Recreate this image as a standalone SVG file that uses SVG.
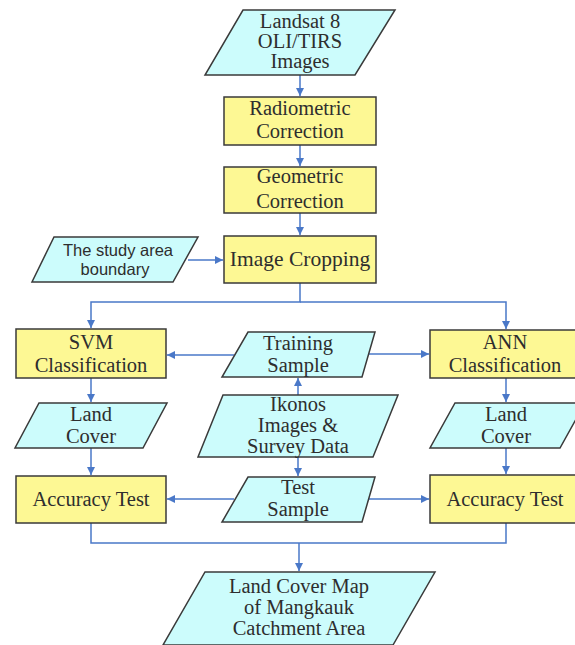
<svg xmlns="http://www.w3.org/2000/svg" width="575" height="645" viewBox="0 0 575 645">
<defs>
<marker id="ah" viewBox="0 0 10 10" refX="10" refY="5" markerWidth="8" markerHeight="8" markerUnits="userSpaceOnUse" orient="auto">
<path d="M0,0 L10,5 L0,10 z" fill="#4a78c8"/>
</marker>
<style>
.box{fill:#fdf894;stroke:#3a3a3a;stroke-width:1.5}
.para{fill:#ccfcfc;stroke:#3a3a3a;stroke-width:1.5}
.t{font-family:"Liberation Serif",serif;font-size:20.5px;fill:#2e2e2e;text-anchor:middle}
.s{font-family:"Liberation Sans",sans-serif;font-size:16.5px;fill:#2e2e2e;text-anchor:middle}
.c{fill:none;stroke:#4a78c8;stroke-width:1.5}
</style>
</defs>
<rect width="575" height="645" fill="#fff"/>
<g id="connectors">
<path class="c" d="M300,75 V96" marker-end="url(#ah)"/>
<path class="c" d="M300,145 V166" marker-end="url(#ah)"/>
<path class="c" d="M300,213 V235" marker-end="url(#ah)"/>
<path class="c" d="M188,260 H223" marker-end="url(#ah)"/>
<path class="c" d="M300,283 V302 H91 V328" marker-end="url(#ah)"/>
<path class="c" d="M300,302 H506 V329" marker-end="url(#ah)"/>
<path class="c" d="M234,355 H167" marker-end="url(#ah)"/>
<path class="c" d="M367,354 H429" marker-end="url(#ah)"/>
<path class="c" d="M298,395 V378" marker-end="url(#ah)"/>
<path class="c" d="M91,378 V402" marker-end="url(#ah)"/>
<path class="c" d="M506,378 V402" marker-end="url(#ah)"/>
<path class="c" d="M91,448 V475" marker-end="url(#ah)"/>
<path class="c" d="M506,448 V474" marker-end="url(#ah)"/>
<path class="c" d="M298,457 V476" marker-end="url(#ah)"/>
<path class="c" d="M234,499 H167" marker-end="url(#ah)"/>
<path class="c" d="M367,499 H429" marker-end="url(#ah)"/>
<path class="c" d="M91,523 V543 H506 V523"/>
<path class="c" d="M299,543 V571" marker-end="url(#ah)"/>
</g>
<g id="landsat">
<polygon class="para" points="243,10 395,10 355,75 205,75"/>
<text class="t" x="300" y="28">Landsat 8</text>
<text class="t" x="300" y="48">OLI/TIRS</text>
<text class="t" x="300" y="68">Images</text>
</g>
<g id="radiometric">
<rect class="box" x="224" y="97" width="152" height="48"/>
<text class="t" x="300" y="115">Radiometric</text>
<text class="t" x="300" y="138">Correction</text>
</g>
<g id="geometric">
<rect class="box" x="224" y="167" width="152" height="46"/>
<text class="t" x="300" y="183">Geometric</text>
<text class="t" x="300" y="208">Correction</text>
</g>
<g id="boundary">
<polygon class="para" points="54,237 198,237 173,282 32,282"/>
<text class="s" x="118" y="256">The study area</text>
<text class="s" x="115" y="275">boundary</text>
</g>
<g id="cropping">
<rect class="box" x="224" y="236" width="152" height="47"/>
<text class="t" x="300" y="266" style="font-size:21.5px">Image Cropping</text>
</g>
<g id="svm">
<rect class="box" x="16" y="329" width="150" height="49"/>
<text class="t" x="91" y="349">SVM</text>
<text class="t" x="91" y="372">Classification</text>
</g>
<g id="training">
<polygon class="para" points="248,332 375,332 362,377 222,377"/>
<text class="t" x="298" y="350">Training</text>
<text class="t" x="298" y="372">Sample</text>
</g>
<g id="ann">
<rect class="box" x="430" y="330" width="148" height="48"/>
<text class="t" x="505" y="349">ANN</text>
<text class="t" x="505" y="372">Classification</text>
</g>
<g id="landcover-left">
<polygon class="para" points="39,403 167,403 143,448 15,448"/>
<text class="t" x="91" y="421">Land</text>
<text class="t" x="91" y="443">Cover</text>
</g>
<g id="ikonos">
<polygon class="para" points="223,395 398,395 373,457 198,457"/>
<text class="t" x="298" y="411">Ikonos</text>
<text class="t" x="298" y="432">Images &amp;</text>
<text class="t" x="298" y="453">Survey Data</text>
</g>
<g id="landcover-right">
<polygon class="para" points="455,403 585,403 560,448 430,448"/>
<text class="t" x="506" y="421">Land</text>
<text class="t" x="506" y="443">Cover</text>
</g>
<g id="accuracy-left">
<rect class="box" x="16" y="476" width="150" height="47"/>
<text class="t" x="91" y="506">Accuracy Test</text>
</g>
<g id="test">
<polygon class="para" points="248,477 375,477 362,522 222,522"/>
<text class="t" x="298" y="494">Test</text>
<text class="t" x="298" y="516">Sample</text>
</g>
<g id="accuracy-right">
<rect class="box" x="430" y="475" width="148" height="48"/>
<text class="t" x="505" y="506">Accuracy Test</text>
</g>
<g id="final">
<polygon class="para" points="205,572 435,572 393,645 163,645"/>
<text class="t" x="299" y="593">Land Cover Map</text>
<text class="t" x="299" y="614">of Mangkauk</text>
<text class="t" x="299" y="635">Catchment Area</text>
</g>
</svg>
